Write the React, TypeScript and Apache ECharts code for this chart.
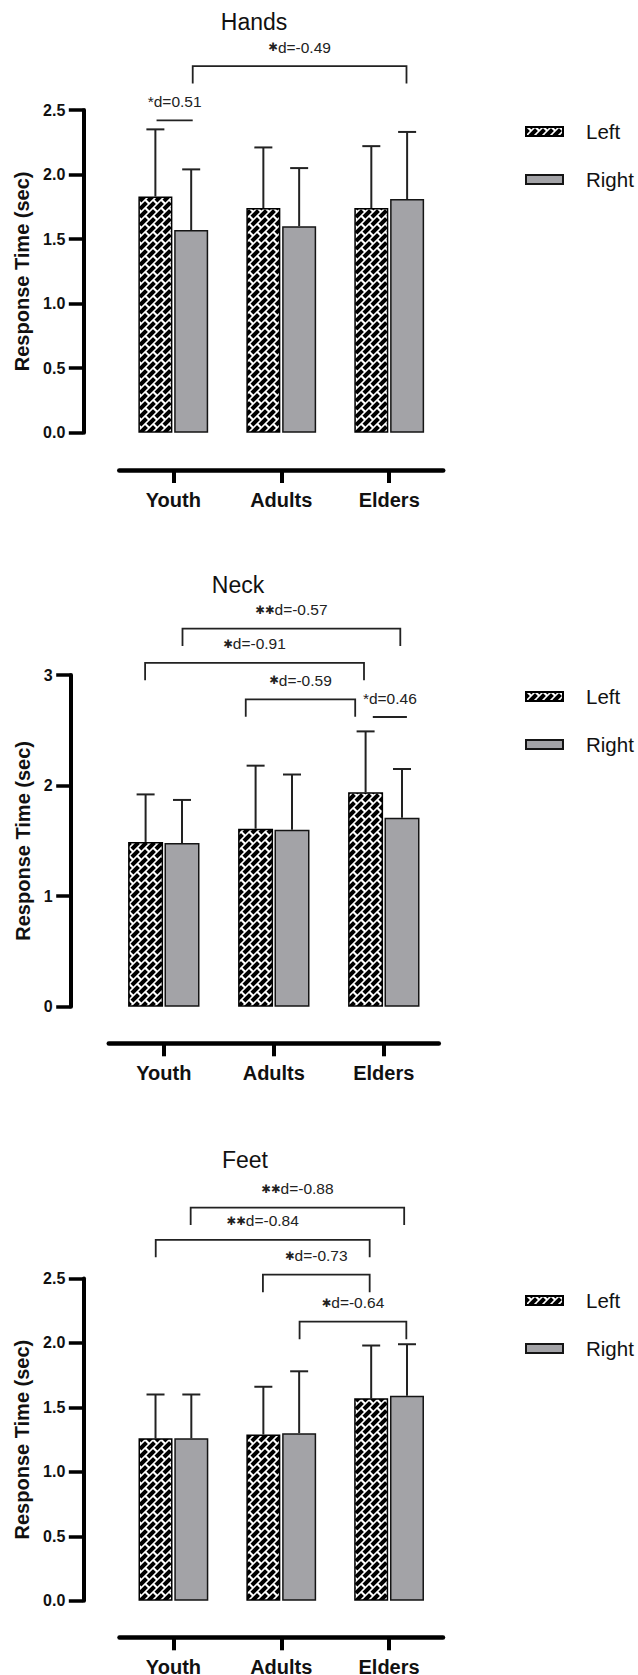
import React, { useEffect, useRef } from 'react';
import * as echarts from 'echarts';

// ---------------- data ----------------
const categories = ['Youth', 'Adults', 'Elders'];
const seriesNames = ['Left', 'Right'];
const titles = ['Hands', 'Neck', 'Feet'];
const yAxisTitle = 'Response Time (sec)';

// means and (upper) SD
const handsLeftMean = [1.83, 1.74, 1.74];
const handsLeftSD = [0.52, 0.47, 0.48];
const handsRightMean = [1.57, 1.6, 1.81];
const handsRightSD = [0.47, 0.45, 0.52];

const neckLeftMean = [1.49, 1.61, 1.94];
const neckLeftSD = [0.43, 0.57, 0.55];
const neckRightMean = [1.48, 1.6, 1.71];
const neckRightSD = [0.39, 0.5, 0.44];

const feetLeftMean = [1.26, 1.29, 1.57];
const feetLeftSD = [0.34, 0.37, 0.41];
const feetRightMean = [1.26, 1.3, 1.59];
const feetRightSD = [0.34, 0.48, 0.4];

// y axis scales [min, max, interval]
const handsYScale = [0, 2.5, 0.5];
const neckYScale = [0, 3, 1];
const feetYScale = [0, 2.5, 0.5];

// significance brackets: x in category units (0 = Youth centre), y in axis units
const handsBrackets = [
  { x1: 0.18, x2: 2.16, y: 2.84, drop: true, stars: '✱', text: 'd=-0.49' },
  { x1: -0.155, x2: 0.18, y: 2.42, drop: false, stars: '', text: '*d=0.51' },
];
const neckBrackets = [
  { x1: 0.17, x2: 2.15, y: 3.42, drop: true, stars: '✱✱', text: 'd=-0.57' },
  { x1: -0.17, x2: 1.82, y: 3.11, drop: true, stars: '✱', text: 'd=-0.91' },
  { x1: 0.745, x2: 1.74, y: 2.78, drop: true, stars: '✱', text: 'd=-0.59' },
  { x1: 1.9, x2: 2.21, y: 2.62, drop: false, stars: '', text: '*d=0.46' },
];
const feetBrackets = [
  { x1: 0.16, x2: 2.14, y: 3.05, drop: true, stars: '✱✱', text: 'd=-0.88' },
  { x1: -0.164, x2: 1.82, y: 2.8, drop: true, stars: '✱✱', text: 'd=-0.84' },
  { x1: 0.83, x2: 1.82, y: 2.53, drop: true, stars: '✱', text: 'd=-0.73' },
  { x1: 1.17, x2: 2.16, y: 2.165, drop: true, stars: '✱', text: 'd=-0.64' },
];

// ---------------- styles / layout ----------------
const FONT = '"Liberation Sans", Arial, Helvetica, sans-serif';
const GRAY = '#a3a3a7';
const INK = '#111';
const LINE = '#222';
const DROP = 17.5;
const TILE = 16;

function makePatternURL(): string {
  const T = TILE;
  const c = document.createElement('canvas');
  c.width = T;
  c.height = T;
  const ctx = c.getContext('2d')!;
  const img = ctx.createImageData(T, T);
  const P = 8;
  const Q = 16;
  const gS = 2.2;
  const gT = 2.8;
  const N = 4;
  for (let y = 0; y < T; y++) {
    for (let x = 0; x < T; x++) {
      let white = 0;
      for (let j = 0; j < N; j++) {
        for (let i = 0; i < N; i++) {
          const sx = x + (i + 0.5) / N;
          const sy = y + (j + 0.5) / N;
          const s = sx + sy;
          const t = sx - sy;
          const row = Math.floor(s / P);
          const sm = s - row * P;
          const off = (((row % 2) + 2) % 2) * (Q / 2);
          const tm = (((t + off) % Q) + Q) % Q;
          if (sm < gS || tm < gT) white++;
        }
      }
      const v = Math.round((255 * white) / (N * N));
      const k = (y * T + x) * 4;
      img.data[k] = v;
      img.data[k + 1] = v;
      img.data[k + 2] = v;
      img.data[k + 3] = 255;
    }
  }
  ctx.putImageData(img, 0, 0);
  return c.toDataURL();
}

const panels = [
  {
    title: titles[0], titleX: 254, titleY: 22,
    grid: { left: 119.3, top: 110, width: 323.9, height: 322.7 },
    yScale: handsYScale, decimals: 1, yOffset: 36, xOffset: 37.3, nameGap: 46,
    barWidth: 34, gapPx: 1.8, legendTop: 121,
    leftMean: handsLeftMean, leftSD: handsLeftSD, rightMean: handsRightMean, rightSD: handsRightSD,
    brackets: handsBrackets,
  },
  {
    title: titles[1], titleX: 238, titleY: 585,
    grid: { left: 108.8, top: 675, width: 330, height: 331.7 },
    yScale: neckYScale, decimals: 0, yOffset: 38.1, xOffset: 36.6, nameGap: 34,
    barWidth: 35, gapPx: 1.4, legendTop: 686,
    leftMean: neckLeftMean, leftSD: neckLeftSD, rightMean: neckRightMean, rightSD: neckRightSD,
    brackets: neckBrackets,
  },
  {
    title: titles[2], titleX: 245, titleY: 1160,
    grid: { left: 119.5, top: 1278.5, width: 323.5, height: 322.2 },
    yScale: feetYScale, decimals: 1, yOffset: 36.2, xOffset: 36.6, nameGap: 46,
    barWidth: 34, gapPx: 1.8, legendTop: 1290,
    leftMean: feetLeftMean, leftSD: feetLeftSD, rightMean: feetRightMean, rightSD: feetRightSD,
    brackets: feetBrackets,
  },
];

function buildOption() {
  const pattern: any = { image: makePatternURL(), repeat: 'repeat', imageWidth: TILE, imageHeight: TILE };

  const grid: any[] = [];
  const xAxis: any[] = [];
  const yAxis: any[] = [];
  const series: any[] = [];
  const legend: any[] = [];
  const graphic: any[] = [];

  panels.forEach((p, k) => {
    grid.push({ ...p.grid, containLabel: false, outerBoundsMode: 'none' });
    xAxis.push({
      type: 'category', gridIndex: k, data: categories, offset: p.xOffset, position: 'bottom',
      axisLine: { show: true, onZero: false, lineStyle: { color: '#000', width: 4.5 } },
      axisTick: { show: true, alignWithLabel: true, length: 13, lineStyle: { color: '#000', width: 4 } },
      axisLabel: { fontSize: 20, fontWeight: 'bold', fontFamily: FONT, color: INK, margin: 20, interval: 0 },
      splitLine: { show: false },
    });
    xAxis.push({
      type: 'value', gridIndex: k, min: -0.5, max: 2.5, show: false,
      axisLine: { onZero: false },
    });
    yAxis.push({
      type: 'value', gridIndex: k, min: p.yScale[0], max: p.yScale[1], interval: p.yScale[2],
      offset: p.yOffset, position: 'left',
      name: yAxisTitle, nameLocation: 'middle', nameGap: p.nameGap,
      nameTextStyle: { fontSize: 20, fontWeight: 'bold', fontFamily: FONT, color: INK },
      axisLine: { show: true, onZero: false, lineStyle: { color: '#000', width: 4 } },
      axisTick: { show: true, length: 14.5, lineStyle: { color: '#000', width: 3.5 } },
      axisLabel: {
        fontSize: 16, fontWeight: 'bold', fontFamily: FONT, color: INK, margin: 18,
        formatter: (v: number) => v.toFixed(p.decimals),
      },
      splitLine: { show: false },
    });

    const barGap = ((p.gapPx / p.barWidth) * 100).toFixed(2) + '%';
    const off = (p.barWidth + p.gapPx) / 2;

    series.push({
      type: 'bar', name: seriesNames[0], xAxisIndex: 2 * k, yAxisIndex: k,
      data: p.leftMean, barWidth: p.barWidth, barGap,
      itemStyle: { color: pattern, borderColor: '#000', borderWidth: 1.5 },
      z: 3, silent: true,
    });
    series.push({
      type: 'bar', name: seriesNames[1], xAxisIndex: 2 * k, yAxisIndex: k,
      data: p.rightMean, barWidth: p.barWidth, barGap,
      itemStyle: { color: GRAY, borderColor: '#151515', borderWidth: 1.5 },
      z: 3, silent: true,
    });

    const errSeries = (means: number[], sds: number[], side: number) => ({
      type: 'custom', xAxisIndex: 2 * k, yAxisIndex: k, z: 2, silent: true,
      data: means.map((m, i) => [i, m, m + sds[i]]),
      renderItem: (params: any, api: any) => {
        const i = api.value(0);
        const m = api.value(1);
        const top = api.value(2);
        const p0 = api.coord([i, m]);
        const p1 = api.coord([i, top]);
        const x = p0[0] + side * off;
        return {
          type: 'group',
          children: [
            { type: 'line', shape: { x1: x, y1: p0[1], x2: x, y2: p1[1] }, style: { stroke: LINE, lineWidth: 2 } },
            { type: 'line', shape: { x1: x - 9, y1: p1[1], x2: x + 9, y2: p1[1] }, style: { stroke: LINE, lineWidth: 2 } },
          ],
        };
      },
    });
    series.push(errSeries(p.leftMean, p.leftSD, -1));
    series.push(errSeries(p.rightMean, p.rightSD, 1));

    const br = p.brackets;
    series.push({
      type: 'custom', xAxisIndex: 2 * k + 1, yAxisIndex: k, z: 5, silent: true, clip: false,
      data: br.map((b) => [b.x1, b.y, b.x2]),
      renderItem: (params: any, api: any) => {
        const b = br[params.dataIndex];
        const a = api.coord([b.x1, b.y]);
        const c = api.coord([b.x2, b.y]);
        const pts = b.drop
          ? [[a[0], a[1] + DROP], [a[0], a[1]], [c[0], c[1]], [c[0], c[1] + DROP]]
          : [[a[0], a[1]], [c[0], c[1]]];
        const txt = b.stars ? `{s|${b.stars}}{t|${b.text}}` : `{t|${b.text}}`;
        return {
          type: 'group',
          children: [
            { type: 'polyline', shape: { points: pts }, style: { stroke: LINE, lineWidth: 1.8, fill: 'none' } },
            {
              type: 'text',
              style: {
                x: (a[0] + c[0]) / 2, y: a[1] - 19, text: txt,
                textAlign: 'center', textVerticalAlign: 'middle',
                rich: {
                  s: { fontFamily: '"DejaVu Sans", sans-serif', fontSize: 11.5, fontWeight: 'bold', fill: LINE },
                  t: { fontFamily: FONT, fontSize: 15.5, fill: LINE },
                },
              },
            },
          ],
        };
      },
    });

    legend.push({
      data: seriesNames, orient: 'vertical', left: 525, top: p.legendTop, padding: 0,
      itemWidth: 37, itemHeight: 9, itemGap: 27, icon: 'rect', selectedMode: false,
      textStyle: { fontSize: 20.5, fontFamily: FONT, color: INK, padding: [0, 0, 0, 18] },
    });

    graphic.push({
      type: 'text', x: p.titleX, y: p.titleY, silent: true,
      style: { text: p.title, textAlign: 'center', textVerticalAlign: 'middle', fontSize: 23, fontFamily: FONT, fill: INK },
    });
  });

  return {
    animation: false,
    backgroundColor: '#fff',
    grid, xAxis, yAxis, series, legend, graphic,
  };
}

export default function App() {
  const ref = useRef<HTMLDivElement>(null);
  useEffect(() => {
    document.body.style.margin = '0';
    const chart = echarts.init(ref.current!, null, { renderer: 'svg' });
    chart.setOption(buildOption() as any);
    return () => chart.dispose();
  }, []);
  return <div ref={ref} style={{ width: 638, height: 1675 }} />;
}
